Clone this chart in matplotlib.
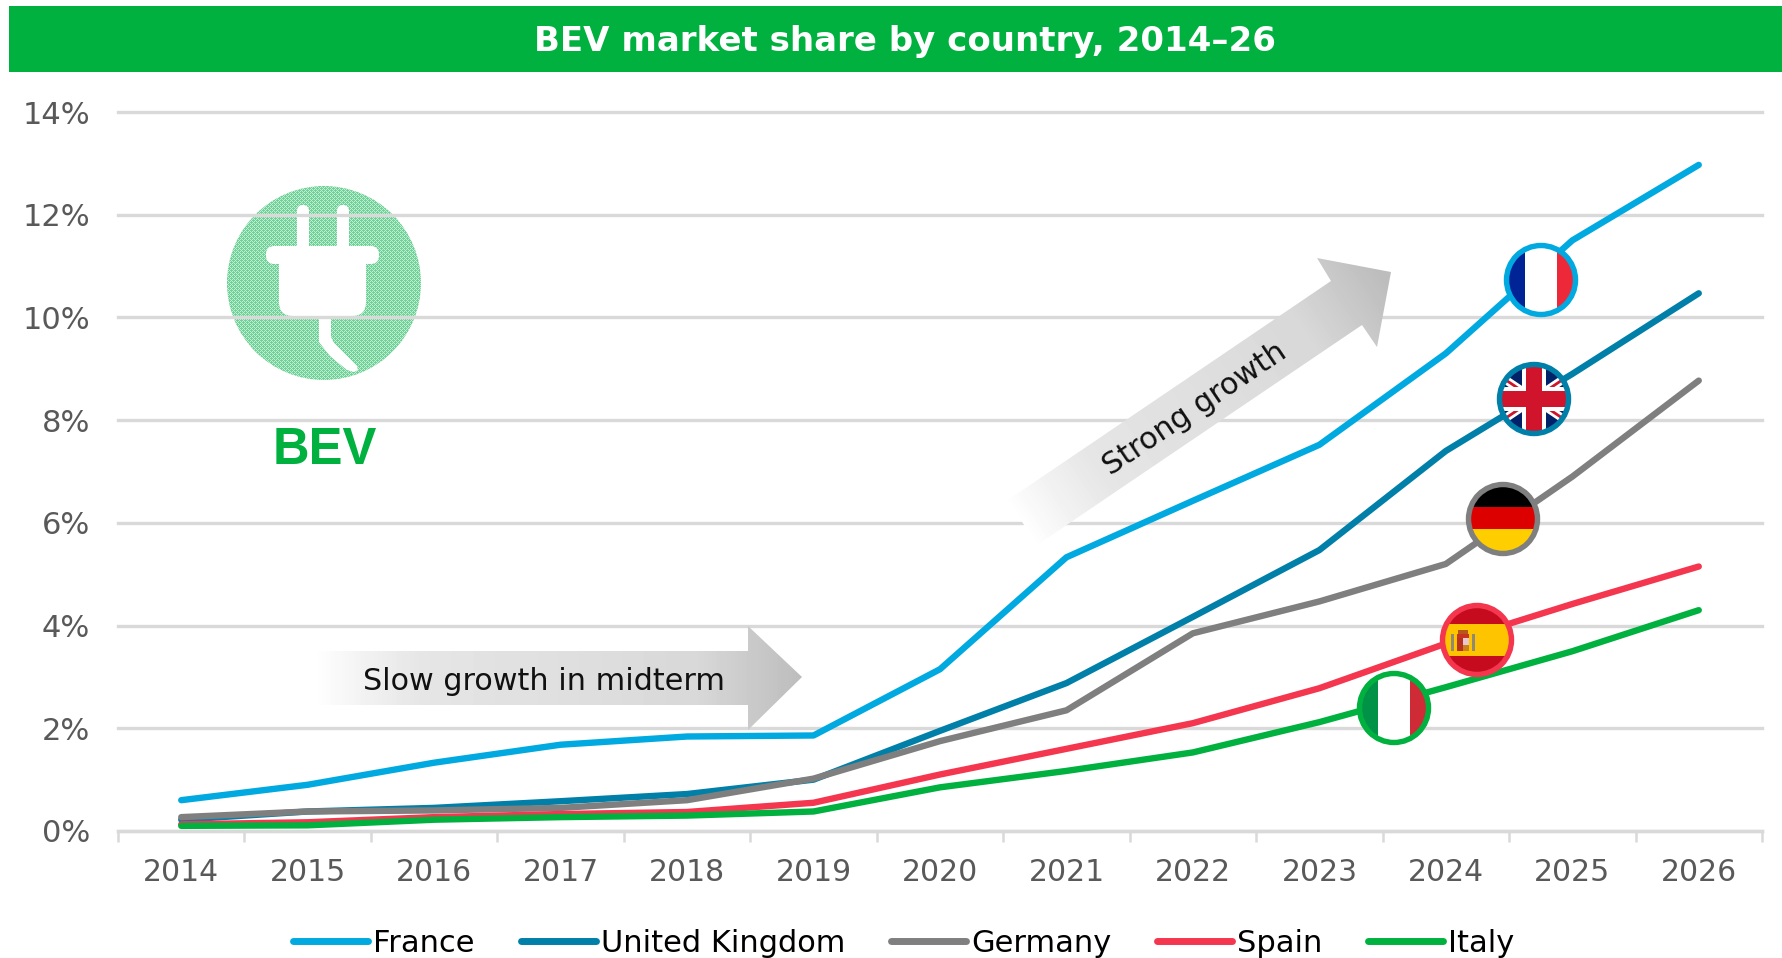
import numpy as np
import matplotlib
matplotlib.use('Agg')
import matplotlib.pyplot as plt
from matplotlib.patches import Circle, Rectangle, Polygon, FancyBboxPatch
from matplotlib.lines import Line2D

plt.rcParams['font.family'] = ['DejaVu Sans']

years = ['2014', '2015', '2016', '2017', '2018', '2019', '2020',
         '2021', '2022', '2023', '2024', '2025', '2026']
france = [0.60, 0.90, 1.33, 1.68, 1.84, 1.86, 3.15, 5.33, 6.43, 7.52, 9.30, 11.50, 12.97]
uk = [0.22, 0.38, 0.45, 0.58, 0.72, 1.00, 1.95, 2.88, 4.17, 5.47, 7.40, 8.90, 10.47]
germany = [0.27, 0.38, 0.40, 0.45, 0.60, 1.02, 1.75, 2.35, 3.85, 4.47, 5.20, 6.90, 8.77]
spain = [0.13, 0.17, 0.27, 0.33, 0.37, 0.55, 1.10, 1.60, 2.10, 2.78, 3.65, 4.42, 5.15]
italy = [0.10, 0.11, 0.22, 0.27, 0.30, 0.38, 0.85, 1.17, 1.53, 2.12, 2.80, 3.50, 4.30]
yticks = [0, 2, 4, 6, 8, 10, 12, 14]

BLUE = '#00A9E0'
TEAL = '#007FA8'
GREY = '#7F7F7F'
RED = '#F4364F'
GREEN = '#00B140'
GRID = '#D9D9D9'
TXT = '#595959'

W, H = 1782, 958
fig = plt.figure(figsize=(W / 100, H / 100), dpi=100, facecolor='white')


def pixel_axes(z):
    a = fig.add_axes([0, 0, 1, 1], zorder=z)
    a.set_xlim(0, W)
    a.set_ylim(H, 0)
    a.axis('off')
    a.set_autoscale_on(False)
    return a


under = pixel_axes(0)
ax = fig.add_axes([118 / W, 1 - 831 / H, (1762 - 118) / W, (831 - 112) / H], zorder=1)
ax.patch.set_alpha(0)
deco = pixel_axes(2)

# plug icon, stippled circle under the gridlines
cx, cy, r = 324, 283, 97
tile = np.array([[0, 0, 1, 0], [0, 1, 0, 1], [1, 0, 0, 0], [0, 1, 0, 1]])
mask = np.tile(tile, (2 * r // 4 + 2, 2 * r // 4 + 2))[:2 * r, :2 * r]
img = np.zeros(mask.shape + (3,))
img[mask == 0] = matplotlib.colors.to_rgb('#6FD197')
img[mask == 1] = matplotlib.colors.to_rgb('#C4EED4')
im = under.imshow(img, extent=(cx - r, cx + r, cy + r, cy - r), interpolation='nearest', aspect='auto')
im.set_clip_path(Circle((cx, cy), r, transform=under.transData))
under.set_xlim(0, W)
under.set_ylim(H, 0)
white = dict(fc='white', ec='none')
under.add_patch(FancyBboxPatch((279, 246), 87, 70, boxstyle='round,pad=0,rounding_size=14', **white))
under.add_patch(FancyBboxPatch((266, 246), 113, 18, boxstyle='round,pad=0,rounding_size=8.5', **white))
under.add_patch(FancyBboxPatch((297, 205), 12, 50, boxstyle='round,pad=0,rounding_size=6', **white))
under.add_patch(FancyBboxPatch((337, 205), 12, 50, boxstyle='round,pad=0,rounding_size=6', **white))
under.add_patch(Polygon([(319, 312), (331, 312), (331, 337), (334, 343), (357, 366), (358, 370),
                         (354, 372), (347, 370), (330, 356), (319, 342)], closed=True, **white))
under.text(325, 450, 'BEV', color=GREEN, fontsize=36.5, fontweight='bold',
           family='Liberation Sans', ha='center', va='center')

# lines
x = np.arange(len(years))
for vals, col, name in [(france, BLUE, 'France'), (uk, TEAL, 'United Kingdom'),
                        (germany, GREY, 'Germany'), (spain, RED, 'Spain'), (italy, GREEN, 'Italy')]:
    ax.plot(x, vals, color=col, lw=4.6, label=name, solid_capstyle='round',
            solid_joinstyle='round', zorder=3, clip_on=False)

ax.set_xlim(-0.5, 12.5)
ax.set_ylim(0, 14)
ax.set_xticks(x)
ax.set_xticklabels(years)
ax.set_xticks(np.arange(-0.5, 13), minor=True)
ax.set_yticks(yticks)
ax.set_yticklabels(['%d%%' % v for v in yticks])
ax.grid(axis='y', color=GRID, lw=2.4, clip_on=False)
ax.set_axisbelow(True)
ax.tick_params(axis='x', which='major', length=0, pad=19.5, labelsize=21.5, labelcolor=TXT)
ax.tick_params(axis='x', which='minor', length=8, width=1.8, color=GRID)
ax.tick_params(axis='y', length=0, pad=20, labelsize=22, labelcolor=TXT)
for s in ['top', 'right', 'left']:
    ax.spines[s].set_visible(False)
ax.spines['bottom'].set_color(GRID)
ax.spines['bottom'].set_linewidth(2.4)

leg = fig.legend(*ax.get_legend_handles_labels(), loc='center', ncol=5, frameon=False,
                 bbox_to_anchor=(904 / W, 1 - 943 / H), fontsize=22, handlelength=2.45,
                 handletextpad=0.17, columnspacing=1.5, borderaxespad=0, borderpad=0)
for ln in leg.get_lines():
    ln.set_linewidth(5)

# title bar
deco.add_patch(Rectangle((9, 6), W - 9, 66, fc=GREEN, ec='none'))
deco.text(905, 41, 'BEV market share by country, 2014\u201326', color='white', fontsize=24.5,
          fontweight='bold', ha='center', va='center')


def gradient_arrow(pts, start, end, stops):
    pts = np.array(pts, dtype=float)
    x0, y0 = pts.min(axis=0) - 2
    x1, y1 = pts.max(axis=0) + 2
    xx, yy = np.meshgrid(np.arange(x0, x1), np.arange(y0, y1))
    d = np.array(end, dtype=float) - start
    t = ((xx - start[0]) * d[0] + (yy - start[1]) * d[1]) / (d @ d)
    grey = np.interp(t, stops[0], stops[1])
    g = deco.imshow(grey, cmap='gray', vmin=0, vmax=1, extent=(x0, x1, y1, y0),
                    aspect='auto', interpolation='bilinear')
    g.set_clip_path(Polygon(pts, closed=True, transform=deco.transData))
    deco.set_xlim(0, W)
    deco.set_ylim(H, 0)


stops = ([0, 0.1, 0.22, 0.78, 1], [1, 0.95, 0.90, 0.85, 0.74])
gradient_arrow([(315, 651), (748, 651), (748, 626), (802, 677), (748, 730), (748, 705), (315, 705)],
               (315, 0), (802, 0), stops)
gradient_arrow([(1008, 500), (1331, 281), (1317, 258), (1391, 272), (1377, 347), (1362, 325), (1037, 545)],
               (1020, 522), (1385, 280), stops)
deco.text(544, 681, 'Slow growth in midterm', color='#111111', fontsize=21.8, ha='center', va='center')
deco.text(1195, 409, 'Strong growth', color='#111111', fontsize=21.8, rotation=34,
          rotation_mode='anchor', ha='center', va='center')


# flags
def flag(fx, fy, ring, parts):
    base = Circle((fx, fy), 34, fc='white', ec='none', zorder=5)
    deco.add_patch(base)
    clip = Circle((fx, fy), 34, transform=deco.transData)
    for kind, args, kw in parts:
        if kind == 'r':
            p = Rectangle((fx + args[0], fy + args[1]), args[2], args[3], ec='none', zorder=6, **kw)
            deco.add_patch(p)
        else:
            p = Line2D([fx + args[0], fx + args[2]], [fy + args[1], fy + args[3]], zorder=6, **kw)
            deco.add_line(p)
        p.set_clip_path(clip)
    deco.add_patch(Circle((fx, fy), 34.5, fc='none', ec=ring, lw=3.9, zorder=7))


flag(1541, 280, BLUE, [('r', (-40, -40, 24, 80), dict(fc='#002395')),
                       ('r', (16, -40, 24, 80), dict(fc='#ED2939'))])
flag(1534, 399, TEAL, [('r', (-40, -40, 80, 80), dict(fc='#012169')),
                       ('l', (-40, -27, 40, 27), dict(color='white', lw=6)),
                       ('l', (40, -27, -40, 27), dict(color='white', lw=6)),
                       ('l', (-40, -27, 40, 27), dict(color='#CF142B', lw=2)),
                       ('l', (40, -27, -40, 27), dict(color='#CF142B', lw=2)),
                       ('r', (-40, -12, 80, 24), dict(fc='white')),
                       ('r', (-12, -40, 24, 80), dict(fc='white')),
                       ('r', (-40, -8, 80, 16), dict(fc='#CF142B')),
                       ('r', (-8, -40, 16, 80), dict(fc='#CF142B'))])
flag(1503, 519, GREY, [('r', (-40, -40, 80, 28), dict(fc='black')),
                       ('r', (-40, -12, 80, 22), dict(fc='#DD0000')),
                       ('r', (-40, 10, 80, 30), dict(fc='#FFCE00'))])
flag(1477, 640, RED, [('r', (-40, -40, 80, 24), dict(fc='#C60B1E')),
                      ('r', (-40, -16, 80, 32), dict(fc='#FFC400')),
                      ('r', (-40, 16, 80, 24), dict(fc='#C60B1E')),
                      ('r', (-19, -10, 10, 4), dict(fc='#B5561C')),
                      ('r', (-20, -6, 12, 4), dict(fc='#C8321E')),
                      ('r', (-20, -2, 6, 13), dict(fc='#B8301E')),
                      ('r', (-14, -2, 6, 7), dict(fc='#E6C8D0')),
                      ('r', (-14, 5, 6, 6), dict(fc='#C9801E')),
                      ('r', (-26, -6, 3, 17), dict(fc='#8F8A70')),
                      ('r', (-5, -6, 3, 17), dict(fc='#8F8A70'))])
flag(1394, 708, GREEN, [('r', (-40, -40, 24, 80), dict(fc='#009246')),
                        ('r', (16, -40, 24, 80), dict(fc='#CE2B37'))])

fig.savefig('out.png', dpi=100, facecolor='white')
